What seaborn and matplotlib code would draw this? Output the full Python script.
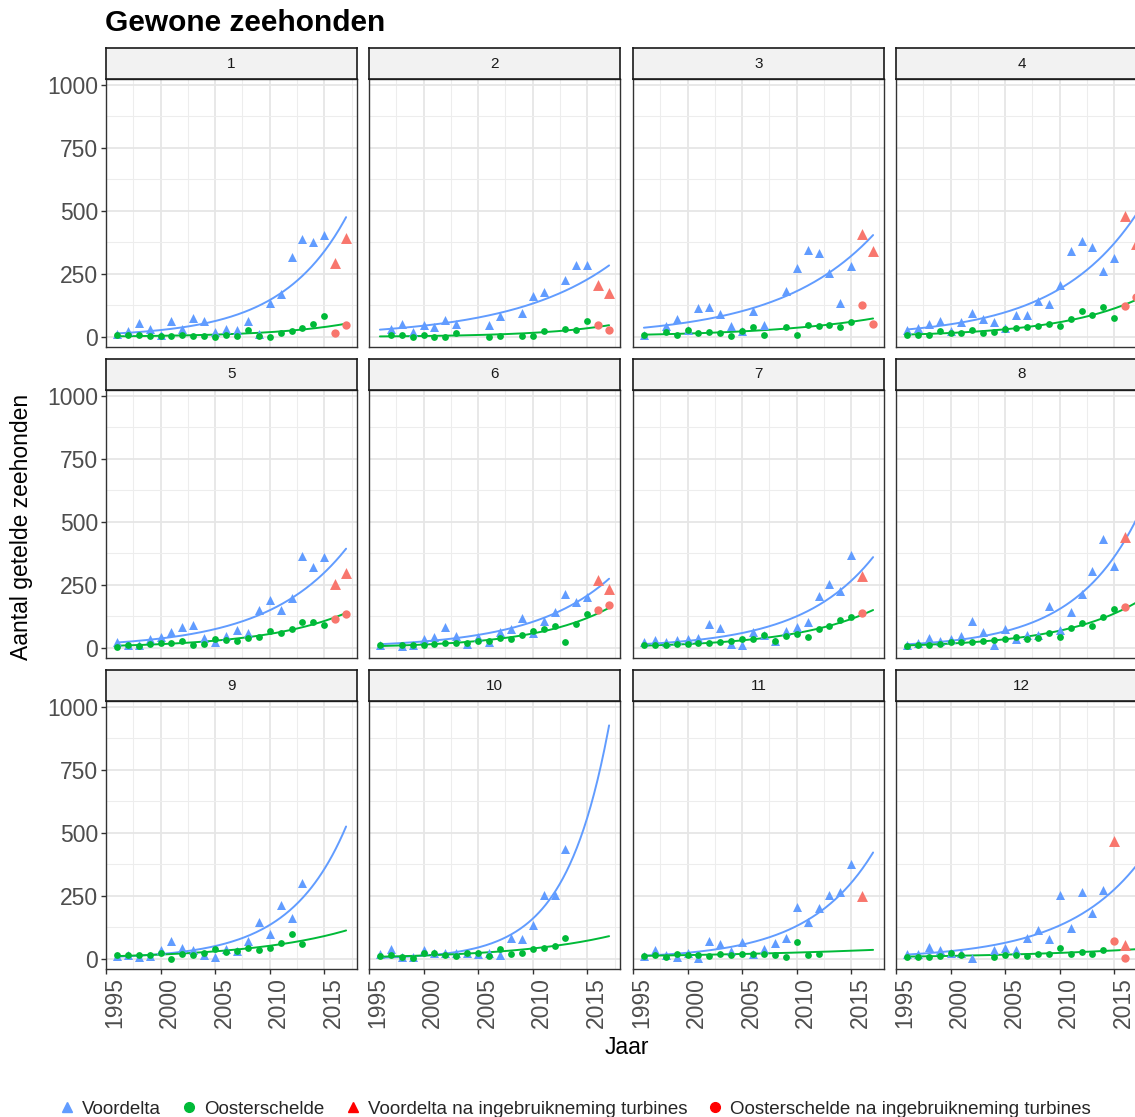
import numpy as np
import pandas as pd
import matplotlib
matplotlib.use("Agg")
import matplotlib.pyplot as plt
from matplotlib.lines import Line2D
from matplotlib.transforms import ScaledTranslation
import seaborn as sns

nan = np.nan

# jaren 1996 .. 2017
jaren = list(range(1996, 2018))
gebieden = [str(i) for i in range(1, 13)]

# aantallen per gebied (Voordelta / Oosterschelde)
vd_1 = [10, 22, 57, 33, 7, 63, 33, 75, 62, 20, 33, 26, 62, 10, 135, 171, 316, 388, 378, 404, 293, 392]
os_1 = [7, 8, 8, 3, 5, 3, 8, 5, 5, 0, 7, 5, 28, 5, 0, 17, 25, 36, 50, 82, 16, 48]
vd_2 = [nan, 30, 53, 20, 49, 39, 67, 51, nan, nan, 46, 83, nan, 96, 164, 178, nan, 225, 285, 285, 207, 174]
os_2 = [nan, 7, 7, 0, 7, 1, 1, 14, nan, nan, 1, 5, nan, 4, 4, 25, nan, 30, 28, 64, 46, 26]
vd_3 = [9, nan, 43, 70, 29, 114, 117, 91, 42, 22, 104, 49, nan, 184, 275, 345, 332, 253, 136, 283, 410, 341]
os_3 = [7, nan, 20, 9, 26, 17, 20, 17, 4, 22, 38, 7, nan, 38, 9, 46, 42, 46, 41, 59, 125, 50]
vd_4 = [26, 36, 51, 64, 22, 59, 95, 72, 59, 36, 88, 88, 143, 129, 205, 341, 380, 357, 260, 313, 480, 370]
os_4 = [9, 9, 9, 22, 17, 17, 28, 14, 20, 30, 36, 41, 43, 50, 43, 70, 103, 88, 118, 75, 122, 160]
vd_5 = [24, 13, 13, 37, 44, 63, 82, 90, 41, 24, 49, 70, 61, 149, 189, 149, 197, 366, 322, 362, 255, 299]
os_5 = [5, 11, 8, 15, 21, 21, 29, 13, 16, 34, 32, 26, 40, 42, 69, 58, 77, 103, 103, 92, 115, 135]
vd_6 = [13, nan, 8, 13, 34, 44, 82, 48, 17, 44, 24, 63, 74, 118, 61, 106, 141, 213, 184, 202, 271, 234]
os_6 = [11, nan, 11, 11, 13, 17, 21, 20, 21, 29, 26, 40, 37, 53, 66, 74, 87, 22, 96, 135, 152, 172]
vd_7 = [24, 30, 24, 30, 37, 40, 96, 79, 16, 13, 63, 50, 29, 67, 82, 103, 205, 254, 225, 369, 285, nan]
os_7 = [11, 12, 11, 14, 17, 18, 21, 24, 26, 34, 34, 50, 26, 48, 57, 44, 77, 85, 110, 123, 140, nan]
vd_8 = [11, 21, 40, 26, 37, 46, 105, 63, 11, 74, 34, 50, 50, 166, 70, 144, 215, 305, 432, 324, 439, nan]
os_8 = [8, 11, 13, 17, 24, 24, 24, 26, 32, 37, 44, 37, 40, 61, 44, 79, 99, 86, 124, 155, 161, nan]
vd_9 = [12, 17, 8, 12, 35, 73, 44, 35, 17, 8, 38, 31, 73, 145, 98, 214, 161, 303, nan, nan, nan, nan]
os_9 = [17, 17, 17, 17, 25, 1, 20, 17, 25, 38, 28, 31, 44, 36, 45, 65, 98, 58, nan, nan, nan, nan]
vd_10 = [19, 38, 9, 7, 34, 25, 25, 25, 25, 19, 25, 17, 83, 78, 134, 255, 255, 435, nan, nan, nan, nan]
os_10 = [12, 15, 7, 4, 25, 25, 15, 12, 25, 25, 12, 38, 20, 22, 38, 44, 52, 83, nan, nan, nan, nan]
vd_11 = [12, 35, 17, 8, 25, 5, 72, 60, 32, 68, 21, 41, 65, 81, 207, 148, 203, 254, 267, 376, 249, nan]
os_11 = [12, 15, 8, 20, 17, 15, 13, 21, 17, 21, 20, 21, 15, 8, 66, 16, 21, nan, nan, nan, nan, nan]
vd_12 = [21, 21, 49, 35, 25, 23, 4, nan, 37, 44, 35, 81, 113, 78, 254, 121, 265, 184, 275, 469, 55, nan]
os_12 = [8, 7, 7, 12, 23, 17, nan, nan, 7, 17, 15, 13, 19, 19, 44, 20, 28, 19, 35, 70, 5, nan]

# eerste jaar na ingebruikneming turbines, per gebied
turbines_vanaf = [2016, 2016, 2016, 2016, 2016, 2016, 2016, 2016, 2016, 2016, 2016, 2015]

voordelta = [vd_1, vd_2, vd_3, vd_4, vd_5, vd_6, vd_7, vd_8, vd_9, vd_10, vd_11, vd_12]
oosterschelde = [os_1, os_2, os_3, os_4, os_5, os_6, os_7, os_8, os_9, os_10, os_11, os_12]

kleuren = {'Voordelta': '#619CFF', 'Oosterschelde': '#00BA38',
           'Voordelta na ingebruikneming turbines': '#F8766D',
           'Oosterschelde na ingebruikneming turbines': '#F8766D'}
markers = {'Voordelta': '^', 'Oosterschelde': 'o',
           'Voordelta na ingebruikneming turbines': '^',
           'Oosterschelde na ingebruikneming turbines': 'o'}
groottes = {'Voordelta': 42, 'Oosterschelde': 24,
            'Voordelta na ingebruikneming turbines': 62,
            'Oosterschelde na ingebruikneming turbines': 36}

rows = []
for i, g in enumerate(gebieden):
    for naam, reeks in (('Voordelta', voordelta[i]), ('Oosterschelde', oosterschelde[i])):
        for j, v in zip(jaren, reeks):
            if np.isnan(v):
                continue
            groep = naam if j < turbines_vanaf[i] else naam + ' na ingebruikneming turbines'
            rows.append((g, j, v, naam, groep))
df = pd.DataFrame(rows, columns=['gebied', 'jaar', 'aantal', 'locatie', 'groep'])


def poisson_fit(x, y, n_iter=50):
    # glm poisson (log link) via IRLS
    X = np.column_stack([np.ones_like(x), x - 2006.0])
    beta = np.linalg.lstsq(X, np.log(y + 1.0), rcond=None)[0]
    for _ in range(n_iter):
        eta = X @ beta
        mu = np.exp(eta)
        z = eta + (y - mu) / mu
        W = mu
        beta = np.linalg.solve(X.T @ (X * W[:, None]), X.T @ (W * z))
    return beta


sns.set_theme(style="white")
plt.rcParams['font.family'] = ['Liberation Sans', 'DejaVu Sans']

W, H = 1135, 1117
fig = plt.figure(figsize=(W / 100, H / 100), dpi=100)

col_x = [106, 369, 633, 896]
row_top = [79, 390, 701]
pw, ph, sh = 251, 268, 31

xfit = np.linspace(1996, 2017, 200)
shift = ScaledTranslation(9 / 100, 0, fig.dpi_scale_trans)

for i, g in enumerate(gebieden):
    r, c = divmod(i, 4)
    left = col_x[c] / W
    bottom = 1 - (row_top[r] + ph) / H
    ax = fig.add_axes([left, bottom, pw / W, ph / H])
    sub = df[df.gebied == g]

    # trend per locatie (alle jaren), over de hele periode
    for naam in ('Voordelta', 'Oosterschelde'):
        d = sub[sub.locatie == naam]
        beta = poisson_fit(d.jaar.values.astype(float), d.aantal.values.astype(float))
        yfit = np.exp(beta[0] + beta[1] * (xfit - 2006.0))
        sns.lineplot(x=xfit, y=yfit, ax=ax, color=kleuren[naam], lw=1.4, zorder=3)

    for groep in kleuren:
        d = sub[sub.groep == groep]
        if len(d) == 0:
            continue
        sns.scatterplot(data=d, x='jaar', y='aantal', ax=ax, color=kleuren[groep],
                        marker=markers[groep], s=groottes[groep], linewidth=0,
                        zorder=4, legend=False)

    ax.set_xlim(1995, 2018)
    ax.set_ylim(-40, 1023)
    ax.set_xticks([1995, 2000, 2005, 2010, 2015])
    ax.set_xticks([1997.5, 2002.5, 2007.5, 2012.5, 2017.5], minor=True)
    ax.set_yticks([0, 250, 500, 750, 1000])
    ax.set_yticks([125, 375, 625, 875], minor=True)
    ax.grid(which='major', color='#E6E6E6', lw=1.3)
    ax.grid(which='minor', color='#EDEDED', lw=0.8)
    ax.set_axisbelow(True)
    ax.set_xlabel('')
    ax.set_ylabel('')
    for sp in ax.spines.values():
        sp.set_color('#333333')
        sp.set_linewidth(1.0)
    ax.tick_params(which='minor', length=0)
    ax.tick_params(which='major', length=3.5, width=1, color='#333333',
                   labelsize=16.5, labelcolor='#4D4D4D', pad=2)
    ax.tick_params(axis='x', bottom=(r == 2), labelbottom=(r == 2), labelrotation=90)
    ax.tick_params(axis='y', left=(c == 0), labelleft=(c == 0))
    for lab in ax.get_xticklabels():
        lab.set_transform(lab.get_transform() + shift)

    # strip
    sax = fig.add_axes([left, 1 - row_top[r] / H, pw / W, sh / H])
    sax.set_facecolor('#F2F2F2')
    sax.set_xticks([])
    sax.set_yticks([])
    for sp in sax.spines.values():
        sp.set_color('#1A1A1A')
        sp.set_linewidth(1.2)
    sax.text(0.5, 0.5, g, ha='center', va='center', fontsize=11, color='#1A1A1A',
             transform=sax.transAxes)

fig.text(105 / W, 1 - 23 / H, 'Gewone zeehonden', fontsize=21.5, fontweight='bold',
         ha='left', va='center', color='black')
fig.text(22 / W, 1 - 527 / H, 'Aantal getelde zeehonden', rotation=90, fontsize=16.5,
         ha='center', va='center', color='black')
fig.text(627 / W, 1 - 1048 / H, 'Jaar', fontsize=16.5, ha='center', va='center', color='black')

handles = []
for groep in kleuren:
    handles.append(Line2D([], [], linestyle='none', marker=markers[groep],
                          color=kleuren[groep] if 'na' not in groep else '#FF0000',
                          markersize=7, label=groep))
fig.legend(handles=handles, loc='center', bbox_to_anchor=(0.506, 1 - 1109 / H), ncol=4,
           frameon=False, fontsize=13.5, handletextpad=0.3, columnspacing=1.0,
           handlelength=1.0, borderaxespad=0)

fig.savefig('out.png', dpi=100)
